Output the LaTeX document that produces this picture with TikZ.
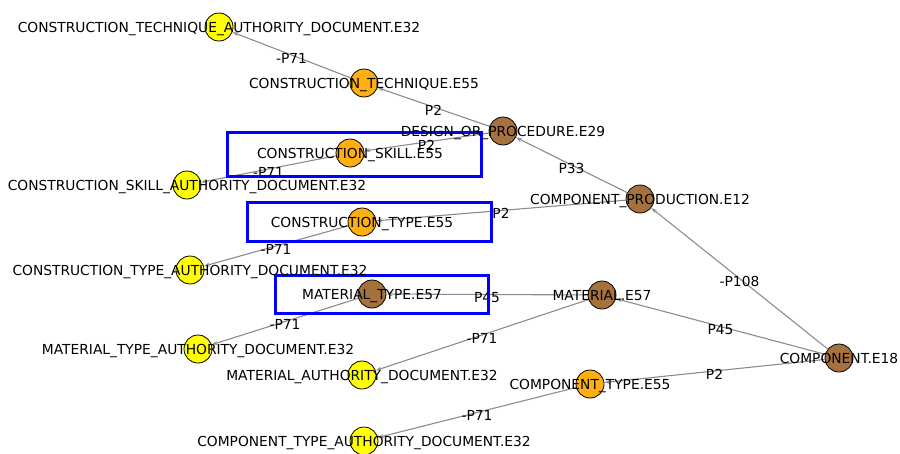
\documentclass[tikz,border=0pt]{standalone}
\usepackage{fontspec}
\setmainfont{DejaVu Sans}
\usetikzlibrary{arrows.meta}
\definecolor{nyellow}{HTML}{FFFF00}
\definecolor{norange}{HTML}{FFB010}
\definecolor{nbrown}{HTML}{A5713D}
\definecolor{edgegray}{HTML}{8C8C8C}
\begin{document}
\begin{tikzpicture}[x=1pt,y=-1pt,
  ent/.style={circle,draw=black,line width=0.8pt,minimum size=28pt,inner sep=0pt},
  doc/.style={ent,fill=nyellow},
  typ/.style={ent,fill=norange},
  thing/.style={ent,fill=nbrown},
  lbl/.style={font=\fontsize{13.8}{16}\selectfont,inner sep=0pt,text height=10pt,text depth=0pt},
  rel/.style={draw=edgegray,line width=1.1pt,-{Stealth[length=6pt,width=4pt]}},
  elbl/.style={lbl,midway,yshift=-3pt},
  hl/.style={draw=blue,line width=3pt}]
\useasboundingbox (0,0) rectangle (900,453);
% entity circles
\node[doc]   (ctad)  at (219,27)  {};
\node[typ]   (ct)    at (364,83)  {};
\node[thing] (dop)   at (503,131) {};
\node[typ]   (cs)    at (350,153) {};
\node[doc]   (csad)  at (187,185) {};
\node[thing] (cp)    at (640,199) {};
\node[typ]   (cty)   at (362,222) {};
\node[doc]   (ctyad) at (190,270) {};
\node[thing] (mt)    at (372,294) {};
\node[thing] (mat)   at (602,295) {};
\node[doc]   (mtad)  at (198,349) {};
\node[doc]   (mad)   at (362,375) {};
\node[thing] (comp)  at (839,358) {};
\node[typ]   (cpt)   at (590,384) {};
\node[doc]   (cptad) at (364,441) {};
% connectors
\draw[rel] (dop) -- (ct) node[elbl] {P2};
\draw[rel] (ct) -- (ctad) node[elbl] {-P71};
\draw[rel] (dop) -- (cs) node[elbl] {P2};
\draw[rel] (cs) -- (csad) node[elbl] {-P71};
\draw[rel] (cp) -- (dop) node[elbl] {P33};
\draw[rel] (cp) -- (cty) node[elbl] {P2};
\draw[rel] (cty) -- (ctyad) node[elbl] {-P71};
\draw[rel] (comp) -- (cp) node[elbl] {-P108};
\draw[rel] (comp) -- (mat) node[elbl] {P45};
\draw[rel] (mat) -- (mt) node[elbl] {P45};
\draw[rel] (mt) -- (mtad) node[elbl] {-P71};
\draw[rel] (mat) -- (mad) node[elbl] {-P71};
\draw[rel] (comp) -- (cpt) node[elbl] {P2};
\draw[rel] (cpt) -- (cptad) node[elbl] {-P71};
% highlight boxes
\draw[hl] (227,132) rectangle (481,176);
\draw[hl] (247,202) rectangle (491,241);
\draw[hl] (275,275) rectangle (488,313);
% node labels
\node[lbl] at (ctad)  {CONSTRUCTION\_TECHNIQUE\_AUTHORITY\_DOCUMENT.E32};
\node[lbl] at (ct)    {CONSTRUCTION\_TECHNIQUE.E55};
\node[lbl] at (dop)   {DESIGN\_OR\_PROCEDURE.E29};
\node[lbl] at (cs)    {CONSTRUCTION\_SKILL.E55};
\node[lbl] at (csad)  {CONSTRUCTION\_SKILL\_AUTHORITY\_DOCUMENT.E32};
\node[lbl] at (cp)    {COMPONENT\_PRODUCTION.E12};
\node[lbl] at (cty)   {CONSTRUCTION\_TYPE.E55};
\node[lbl] at (ctyad) {CONSTRUCTION\_TYPE\_AUTHORITY\_DOCUMENT.E32};
\node[lbl] at (mt)    {MATERIAL\_TYPE.E57};
\node[lbl] at (mat)   {MATERIAL.E57};
\node[lbl] at (mtad)  {MATERIAL\_TYPE\_AUTHORITY\_DOCUMENT.E32};
\node[lbl] at (mad)   {MATERIAL\_AUTHORITY\_DOCUMENT.E32};
\node[lbl] at (comp)  {COMPONENT.E18};
\node[lbl] at (cpt)   {COMPONENT\_TYPE.E55};
\node[lbl] at (cptad) {COMPONENT\_TYPE\_AUTHORITY\_DOCUMENT.E32};
\end{tikzpicture}
\end{document}
